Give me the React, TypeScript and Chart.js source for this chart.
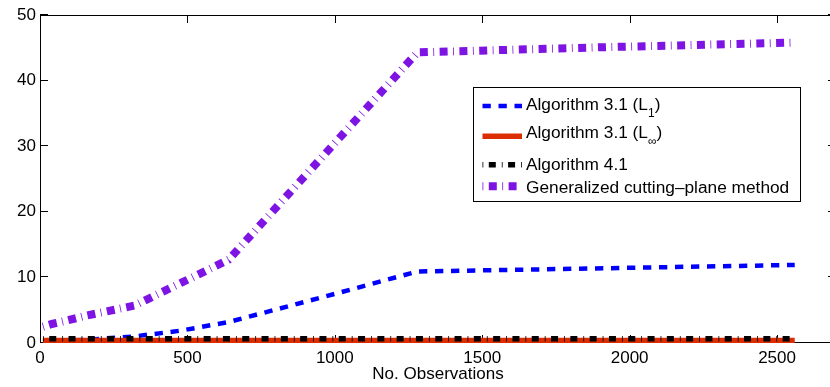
import React, { useEffect, useRef } from 'react';
import { Chart, registerables } from 'chart.js';

Chart.register(...registerables);

const observations = [10, 40, 80, 160, 320, 480, 640, 960, 1280, 1920, 2560];
const algorithm31L1 = [0.3, 0.3, 0.35, 0.5, 1.0, 1.9, 3.2, 7.0, 10.9, 11.4, 11.9];
const algorithm31Linf = [0.4, 0.4, 0.4, 0.4, 0.4, 0.4, 0.4, 0.4, 0.4, 0.4, 0.4];
const algorithm41 = [0.65, 0.65, 0.65, 0.65, 0.65, 0.65, 0.65, 0.65, 0.65, 0.65, 0.65];
const cuttingPlane = [2.5, 2.9, 3.3, 4.2, 5.7, 9.2, 12.7, 28.5, 44.3, 45.1, 45.8];

const xTicks = [0, 500, 1000, 1500, 2000, 2500];
const yTicks = [0, 10, 20, 30, 40, 50];
const xMin = 0;
const xMax = 2700;
const yMin = 0;
const yMax = 50;
const xTitle = 'No. Observations';

const legendEntries = [
  { main: 'Algorithm 3.1 (L', sub: '1', tail: ')' },
  { main: 'Algorithm 3.1 (L', sub: '\u221E', tail: ')' },
  { main: 'Algorithm 4.1', sub: '', tail: '' },
  { main: 'Generalized cutting\u2013plane method', sub: '', tail: '' },
];

const FONT = '"Liberation Sans", Arial, Helvetica, sans-serif';

const styles = [
  { color: 'rgb(0,0,255)', width: 4.5, dash: [8.3, 7.7] },
  { color: 'rgb(220,45,0)', width: 5.5, dash: [] as number[] },
  { color: 'rgb(0,0,0)', width: 5.5, dash: [0.8, 5.5, 7, 6] },
  { color: 'rgb(126,20,228)', width: 8, dash: [0.8, 5.5, 8, 5.5] },
];

const seriesList = [algorithm31L1, algorithm31Linf, algorithm41, cuttingPlane];
const drawOrder = [4, 3, 2, 1];

const framePlugin = {
  id: 'frame',
  beforeDatasetsDraw(chart: any) {
    const { ctx, chartArea: a, scales } = chart;
    ctx.save();
    ctx.strokeStyle = '#000';
    ctx.lineWidth = 1;
    ctx.beginPath();
    ctx.moveTo(a.left + 0.5, a.top + 0.5);
    ctx.lineTo(a.right - 0.5, a.top + 0.5);
    ctx.lineTo(a.right - 0.5, a.bottom - 0.5);
    ctx.lineTo(a.left + 0.5, a.bottom - 0.5);
    ctx.closePath();
    ctx.stroke();
    ctx.beginPath();
    for (const v of yTicks) {
      const py = Math.round(scales.y.getPixelForValue(v)) - 0.5;
      ctx.moveTo(a.left, py);
      ctx.lineTo(a.left + 8, py);
      ctx.moveTo(a.right - 8, py);
      ctx.lineTo(a.right, py);
    }
    for (const v of xTicks) {
      const px = Math.round(scales.x.getPixelForValue(v)) + 0.5;
      ctx.moveTo(px, a.bottom);
      ctx.lineTo(px, a.bottom - 8);
      ctx.moveTo(px, a.top);
      ctx.lineTo(px, a.top + 8);
    }
    ctx.stroke();
    ctx.restore();
  },
};

const legendPlugin = {
  id: 'customLegend',
  afterDraw(chart: any) {
    const ctx = chart.ctx;
    ctx.save();
    const bx = 473.5, by = 87.5, bw = 327, bh = 114;
    ctx.fillStyle = '#fff';
    ctx.fillRect(bx, by, bw, bh);
    ctx.strokeStyle = '#000';
    ctx.lineWidth = 1;
    ctx.strokeRect(bx, by, bw, bh);
    const sampleY = [106, 136.3, 164.7, 186.3];
    const baseY = [110, 138, 170, 193];
    legendEntries.forEach((e, i) => {
      const s = styles[i];
      ctx.save();
      ctx.strokeStyle = s.color;
      ctx.lineWidth = s.width;
      ctx.lineCap = 'butt';
      ctx.setLineDash(s.dash);
      ctx.beginPath();
      ctx.moveTo(482.5, sampleY[i]);
      ctx.lineTo(522, sampleY[i]);
      ctx.stroke();
      ctx.restore();
      ctx.fillStyle = '#000';
      ctx.textBaseline = 'alphabetic';
      ctx.textAlign = 'left';
      let x = 526;
      ctx.font = `17.3px ${FONT}`;
      ctx.fillText(e.main, x, baseY[i]);
      x += ctx.measureText(e.main).width;
      if (e.sub) {
        ctx.font = `12px ${FONT}`;
        ctx.fillText(e.sub, x, baseY[i] + 7);
        x += ctx.measureText(e.sub).width;
      }
      if (e.tail) {
        ctx.font = `17.3px ${FONT}`;
        ctx.fillText(e.tail, x, baseY[i]);
      }
    });
    ctx.restore();
  },
};

export default function App() {
  const ref = useRef<HTMLCanvasElement>(null);
  useEffect(() => {
    if (!ref.current) return;
    const chart = new Chart(ref.current, {
      type: 'line',
      data: {
        datasets: seriesList.map((series, i) => ({
          label: legendEntries[i].main + legendEntries[i].sub + legendEntries[i].tail,
          data: observations.map((x, j) => ({ x, y: series[j] })),
          borderColor: styles[i].color,
          backgroundColor: styles[i].color,
          borderWidth: styles[i].width,
          borderDash: styles[i].dash,
          borderCapStyle: 'butt',
          borderJoinStyle: 'miter',
          pointRadius: 0,
          tension: 0,
          fill: false,
          order: drawOrder[i],
        })),
      },
      options: {
        responsive: false,
        devicePixelRatio: 1,
        animation: false,
        events: [],
        layout: { padding: { top: 15, right: 4, left: 0, bottom: 0 } },
        plugins: { legend: { display: false }, tooltip: { enabled: false } },
        scales: {
          x: {
            type: 'linear',
            min: xMin,
            max: xMax,
            afterBuildTicks: (s: any) => {
              s.ticks = xTicks.map((v) => ({ value: v }));
            },
            afterFit: (s: any) => {
              s.height = 44;
            },
            grid: { display: false, drawTicks: false },
            border: { display: false },
            ticks: {
              font: { family: FONT, size: 17 },
              color: '#000',
              padding: 5,
              maxRotation: 0,
              autoSkip: false,
              callback: (v: any) => String(v),
            },
            title: {
              display: true,
              text: xTitle,
              font: { family: FONT, size: 17 },
              color: '#000',
              padding: { top: 0, bottom: 2 },
            },
          },
          y: {
            type: 'linear',
            min: yMin,
            max: yMax,
            afterBuildTicks: (s: any) => {
              s.ticks = yTicks.map((v) => ({ value: v }));
            },
            afterFit: (s: any) => {
              s.width = 40;
            },
            grid: { display: false, drawTicks: false },
            border: { display: false },
            ticks: {
              font: { family: FONT, size: 17 },
              color: '#000',
              padding: 4,
              autoSkip: false,
              callback: (v: any) => String(v),
            },
          },
        },
      },
      plugins: [framePlugin, legendPlugin],
    } as any);
    return () => chart.destroy();
  }, []);
  return (
    <div
      style={{
        position: 'absolute',
        left: 0,
        top: 0,
        width: 830,
        height: 387,
        overflow: 'hidden',
        background: '#fff',
      }}
    >
      <canvas ref={ref} width={840} height={387} style={{ display: 'block', width: 840, height: 387 }} />
    </div>
  );
}
